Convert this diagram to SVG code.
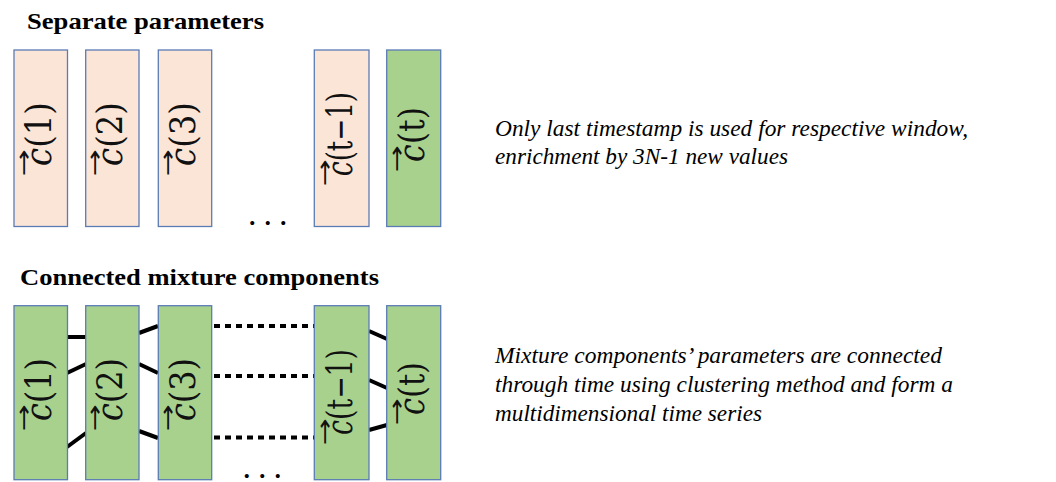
<svg xmlns="http://www.w3.org/2000/svg" width="1056" height="482" viewBox="0 0 1056 482">
<style>
.title{font-family:"Liberation Serif",serif;font-weight:bold;font-size:23px;fill:#000}
.note{font-family:"Liberation Serif",serif;font-style:italic;font-size:23px;fill:#000}
.peach{fill:#FBE5D6;stroke:#5B7BB5;stroke-width:1.3}
.green{fill:#A9D18E;stroke:#5B7BB5;stroke-width:1.3}
.lbl{font-family:"DejaVu Serif",serif;font-size:35px;fill:#111}
.it{font-style:italic}
.arr{font-family:"DejaVu Sans",sans-serif;font-size:22px;fill:#111}
.solid{stroke:#000;stroke-width:4;fill:none}
.dot{stroke:#000;stroke-width:4;fill:none;stroke-dasharray:6 5}
.dots{font-family:"Liberation Serif",serif;font-size:34px;fill:#000;letter-spacing:7px}
</style>
<defs>
<text id="vec" class="arr" x="-10" y="-20" textLength="27" lengthAdjust="spacingAndGlyphs">→</text>
</defs>
<rect width="1056" height="482" fill="#fff"/>
<text class="title" x="27" y="29" textLength="237" lengthAdjust="spacingAndGlyphs">Separate parameters</text>
<text class="title" x="20" y="285" textLength="359" lengthAdjust="spacingAndGlyphs">Connected mixture components</text>

<g id="top-c1"><rect class="peach" x="14" y="50" width="53.5" height="176.5"/><g transform="translate(51,166) rotate(-90)"><use href="#vec"/><text class="lbl" textLength="64" lengthAdjust="spacingAndGlyphs"><tspan class="it">c</tspan>(1)</text></g></g>
<g id="top-c2"><rect class="peach" x="85.7" y="50" width="53.3" height="176.5"/><g transform="translate(122.3,166) rotate(-90)"><use href="#vec"/><text class="lbl" textLength="64" lengthAdjust="spacingAndGlyphs"><tspan class="it">c</tspan>(2)</text></g></g>
<g id="top-c3"><rect class="peach" x="158.3" y="50" width="53.4" height="176.5"/><g transform="translate(195,166) rotate(-90)"><use href="#vec"/><text class="lbl" textLength="64" lengthAdjust="spacingAndGlyphs"><tspan class="it">c</tspan>(3)</text></g></g>
<g id="top-ct1"><rect class="peach" x="314.3" y="50" width="54.7" height="176.5"/><g transform="translate(352,176) rotate(-90)"><use href="#vec"/><text class="lbl" textLength="84" lengthAdjust="spacingAndGlyphs"><tspan class="it">c</tspan>(t−1)</text></g></g>
<g id="top-ct"><rect class="green" x="386.7" y="50" width="54" height="176.5"/><g transform="translate(424,162) rotate(-90)"><use href="#vec"/><text class="lbl" textLength="55" lengthAdjust="spacingAndGlyphs"><tspan class="it">c</tspan>(t)</text></g></g>
<text class="dots" x="248" y="224.5">...</text>

<g id="connectors">
<line class="solid" x1="67" y1="337" x2="86" y2="337"/>
<line class="solid" x1="67" y1="373" x2="86" y2="364"/>
<line class="solid" x1="67" y1="447" x2="86" y2="433"/>
<line class="solid" x1="139" y1="333" x2="158" y2="326"/>
<line class="solid" x1="139" y1="364" x2="158" y2="373"/>
<line class="solid" x1="139" y1="431" x2="158" y2="438"/>
<line class="dot" x1="214" y1="326" x2="314" y2="326"/>
<line class="dot" x1="214" y1="376" x2="314" y2="376"/>
<line class="dot" x1="214" y1="437.5" x2="314" y2="437.5"/>
<line class="solid" x1="369" y1="331" x2="387" y2="339"/>
<line class="solid" x1="369" y1="380" x2="387" y2="388"/>
<line class="solid" x1="369" y1="430" x2="387" y2="425"/>
</g>

<g id="bot-c1"><rect class="green" x="14" y="305.7" width="53.5" height="174"/><g transform="translate(51,421) rotate(-90)"><use href="#vec"/><text class="lbl" textLength="63" lengthAdjust="spacingAndGlyphs"><tspan class="it">c</tspan>(1)</text></g></g>
<g id="bot-c2"><rect class="green" x="85.7" y="305.7" width="53.3" height="174"/><g transform="translate(122.3,421) rotate(-90)"><use href="#vec"/><text class="lbl" textLength="63" lengthAdjust="spacingAndGlyphs"><tspan class="it">c</tspan>(2)</text></g></g>
<g id="bot-c3"><rect class="green" x="158.3" y="305.7" width="53.4" height="174"/><g transform="translate(195,421) rotate(-90)"><use href="#vec"/><text class="lbl" textLength="63" lengthAdjust="spacingAndGlyphs"><tspan class="it">c</tspan>(3)</text></g></g>
<g id="bot-ct1"><rect class="green" x="314.3" y="305.7" width="54.7" height="174"/><g transform="translate(352,435) rotate(-90)"><use href="#vec"/><text class="lbl" textLength="86" lengthAdjust="spacingAndGlyphs"><tspan class="it">c</tspan>(t−1)</text></g></g>
<g id="bot-ct"><rect class="green" x="386.7" y="305.7" width="54" height="174"/><g transform="translate(424,415) rotate(-90)"><use href="#vec"/><text class="lbl" textLength="53" lengthAdjust="spacingAndGlyphs"><tspan class="it">c</tspan>(t)</text></g></g>
<text class="dots" x="242.5" y="477.5">...</text>

<g id="note-top">
<text class="note" x="495" y="136" textLength="473" lengthAdjust="spacingAndGlyphs">Only last timestamp is used for respective window,</text>
<text class="note" x="495" y="164" textLength="293" lengthAdjust="spacingAndGlyphs">enrichment by 3N-1 new values</text>
</g>
<g id="note-bot">
<text class="note" x="495" y="363" textLength="447" lengthAdjust="spacingAndGlyphs">Mixture components’ parameters are connected</text>
<text class="note" x="495" y="392" textLength="458" lengthAdjust="spacingAndGlyphs">through time using clustering method and form a</text>
<text class="note" x="495" y="421" textLength="267" lengthAdjust="spacingAndGlyphs">multidimensional time series</text>
</g>
</svg>
